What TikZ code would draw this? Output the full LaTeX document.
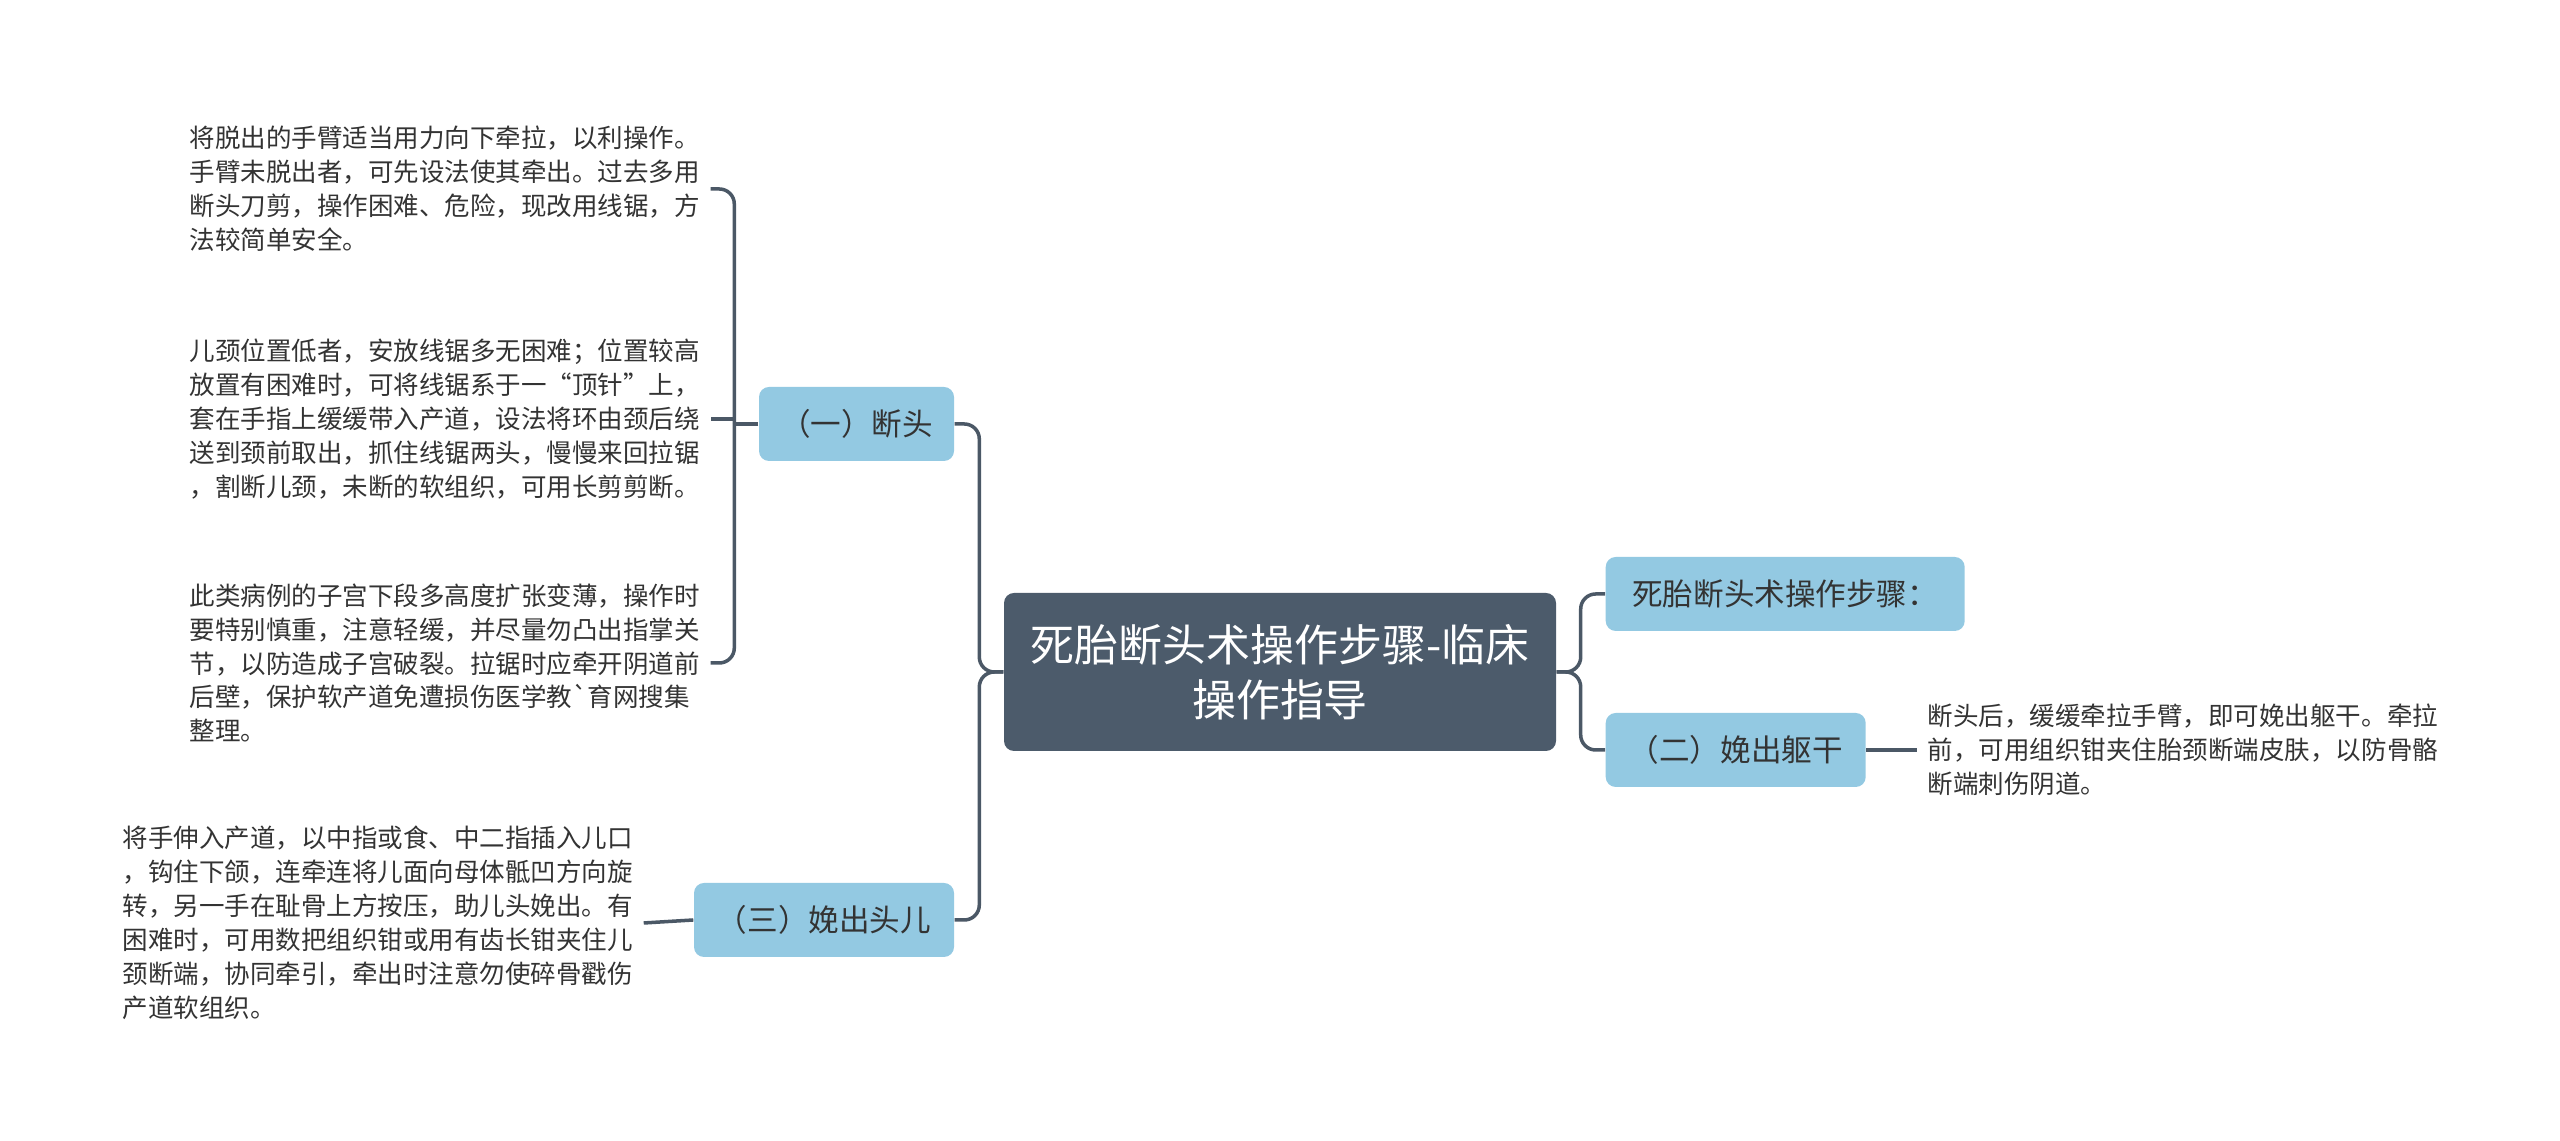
\documentclass[tikz,border=0pt]{standalone}
\usepackage{fontspec}
\setmainfont{Noto Sans CJK SC}
\usepackage{tikz}
\usetikzlibrary{calc,positioning}
\definecolor{rootfill}{HTML}{4C5B6B}
\definecolor{subfill}{HTML}{93C9E2}
\definecolor{linkcol}{HTML}{4B5866}
\definecolor{txtcol}{HTML}{333333}

\begin{document}
\begin{tikzpicture}[
  rootbox/.style={fill=rootfill,rounded corners=0.1cm,text=white,align=center,
    minimum width=5.52cm,minimum height=1.58cm,font=\fontsize{12.5}{15.6}\selectfont},
  subbox/.style={fill=subfill,rounded corners=0.1cm,text=txtcol,minimum height=0.74cm,
    inner xsep=0.2cm,font=\fontsize{8.7}{10}\selectfont},
  note/.style={text=txtcol,align=left,inner xsep=0.1cm,inner ysep=0pt,
    font=\fontsize{7.26}{9.65}\selectfont},
  link/.style={draw=linkcol,line width=1pt,rounded corners=0.15cm}]
\useasboundingbox (0,0) rectangle (25.6,11.41);
% centre and right side
\node[rootbox] (root) at (12.80,4.69) {死胎断头术操作步骤-临床\\操作指导};
\node[subbox,minimum width=3.59cm,anchor=west] (steps) at (16.05,5.47) {死胎断头术操作步骤：};
\node[subbox,minimum width=2.60cm,anchor=west] (trunk) at (16.05,3.91) {（二）娩出躯干};
\node[note,anchor=west] (trunknote) at (19.17,3.91) {断头后，缓缓牵拉手臂，即可娩出躯干。牵拉\\前，可用组织钳夹住胎颈断端皮肤，以防骨骼\\断端刺伤阴道。};
% left side
\node[subbox,minimum width=1.95cm] (head) at (8.565,7.17) {（一）断头};
\node[subbox,minimum width=2.60cm] (birth) at (8.24,2.21) {（三）娩出头儿};
\node[note,anchor=west] (headA) at (1.79,9.52) {将脱出的手臂适当用力向下牵拉，以利操作。\\手臂未脱出者，可先设法使其牵出。过去多用\\断头刀剪，操作困难、危险，现改用线锯，方\\法较简单安全。};
\node[note,anchor=west] (headB) at (1.79,7.22) {儿颈位置低者，安放线锯多无困难；位置较高\\放置有困难时，可将线锯系于一“顶针”上，\\套在手指上缓缓带入产道，设法将环由颈后绕\\送到颈前取出，抓住线锯两头，慢慢来回拉锯\\，割断儿颈，未断的软组织，可用长剪剪断。};
\node[note,anchor=west] (headC) at (1.79,4.78) {此类病例的子宫下段多高度扩张变薄，操作时\\要特别慎重，注意轻缓，并尽量勿凸出指掌关\\节，以防造成子宫破裂。拉锯时应牵开阴道前\\后壁，保护软产道免遭损伤医学教\textasciigrave 育网搜集\\整理。};
\node[note,anchor=west] (birthnote) at (1.12,2.18) {将手伸入产道，以中指或食、中二指插入儿口\\，钩住下颌，连牵连将儿面向母体骶凹方向旋\\转，另一手在耻骨上方按压，助儿头娩出。有\\困难时，可用数把组织钳或用有齿长钳夹住儿\\颈断端，协同牵引，牵出时注意勿使碎骨戳伤\\产道软组织。};
% connectors
\draw[link] (root.west) -- ++(-0.24,0) |- (head.east);
\draw[link] (root.west) -- ++(-0.24,0) |- (birth.east);
\draw[link] (root.east) -- ++(0.24,0) |- (steps.west);
\draw[link] (root.east) -- ++(0.24,0) |- (trunk.west);
\draw[link] (trunk.east) -- (trunknote.west);
\coordinate (headj) at ($(head.west)+(-0.24,0)$);
\draw[link] (head.west) -- (headj);
\draw[link] (headj) |- (headA.east);
\draw[link] (headj) |- (headC.east);
\draw[link,rounded corners=0pt] (headj) |- (headB.east);
\draw[link] (birth.west) -- (birthnote.east);
\end{tikzpicture}
\end{document}
